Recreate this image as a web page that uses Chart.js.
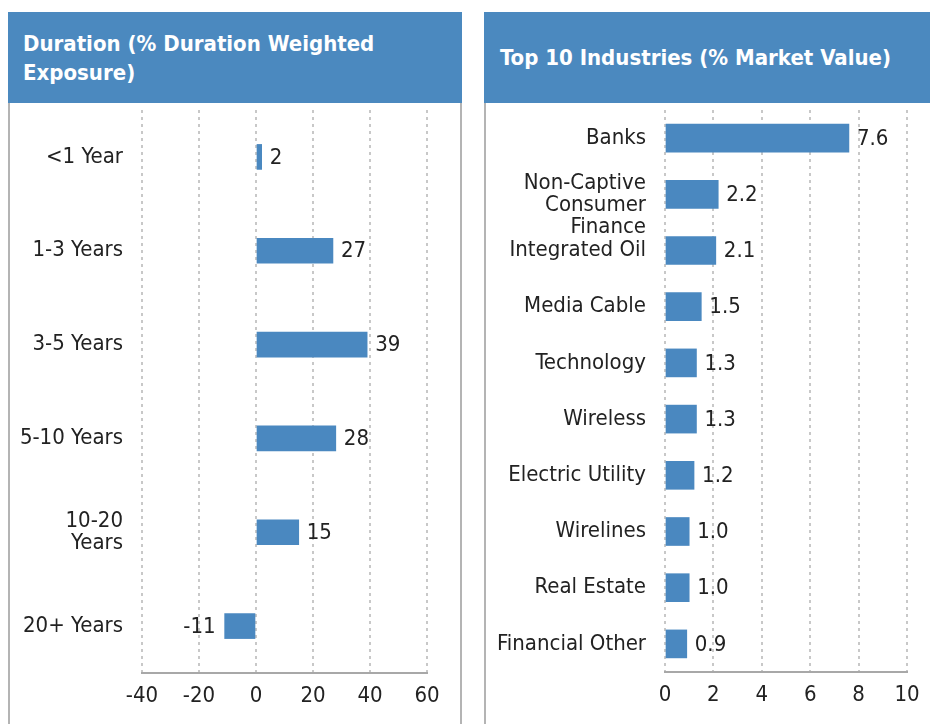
<!DOCTYPE html>
<html><head><meta charset="utf-8">
<script src="https://cdn.jsdelivr.net/npm/chart.js@4/dist/chart.umd.min.js"></script>
<style>
html,body{margin:0;padding:0;background:#fff;width:930px;height:724px;overflow:hidden;position:relative;font-family:'DejaVu Sans Condensed','DejaVu Sans',sans-serif;}
.hdr{position:absolute;background:#4b89bf;color:#fff;font-weight:bold;font-size:22px;line-height:29px;box-sizing:border-box;white-space:nowrap;}
.body{position:absolute;border-left:2px solid #b4b4b4;border-right:2px solid #b4b4b4;box-sizing:border-box;}
canvas{position:absolute;}
</style></head><body>
<div class="hdr" style="left:8px;top:12px;width:454px;height:91px;padding:17px 0 0 15px;">Duration (% Duration Weighted<br>Exposure)</div>
<div class="body" style="left:8px;top:103px;width:454px;height:630px;"></div>
<div class="hdr" style="left:484px;top:12px;width:446px;height:91px;padding:31px 0 0 16px;">Top 10 Industries (% Market Value)</div>
<div class="body" style="left:484px;top:103px;width:460px;height:630px;"></div>
<canvas id="c1" width="450" height="621" style="left:10px;top:103px;"></canvas>
<canvas id="c2" width="444" height="621" style="left:486px;top:103px;"></canvas>
<script>
const durationCategories = ['<1 Year', '1-3 Years', '3-5 Years', '5-10 Years', ['10-20', 'Years'], '20+ Years'];
const durationValues = [2, 27, 39, 28, 15, -11];
const durationTicks = [-40, -20, 0, 20, 40, 60];

const industryCategories = ['Banks', ['', 'Non-Captive', 'Consumer', 'Finance'], 'Integrated Oil', 'Media Cable', 'Technology', 'Wireless', 'Electric Utility', 'Wirelines', 'Real Estate', 'Financial Other'];
const industryValues = [7.6, 2.2, 2.1, 1.5, 1.3, 1.3, 1.2, 1.0, 1.0, 0.9];
const industryTicks = [0, 2, 4, 6, 8, 10];

const FONT = "'DejaVu Sans Condensed','DejaVu Sans',sans-serif";
const FS = 22;
const BAR = '#4a88c0';

function labelPlugin(fmt){
  return {
    id:'vals',
    afterDatasetsDraw(chart){
      const ctx = chart.ctx;
      const meta = chart.getDatasetMeta(0);
      const data = chart.data.datasets[0].data;
      ctx.save();
      ctx.font = FS + 'px ' + FONT;
      ctx.fillStyle = '#222';
      ctx.textBaseline = 'middle';
      meta.data.forEach((el, i) => {
        const v = data[i];
        if (v >= 0) { ctx.textAlign = 'left'; ctx.fillText(fmt(v), el.x + 8, el.y + 1); }
        else { ctx.textAlign = 'right'; ctx.fillText(fmt(v), el.x - 9, el.y + 1); }
      });
      ctx.restore();
    }
  };
}

function makeChart(id, labels, values, ticks, thick, yWidth, padRight, xHeight, fmt){
  new Chart(document.getElementById(id), {
    type:'bar',
    data:{labels, datasets:[{data:values, backgroundColor:BAR, barThickness:thick, borderWidth:0}]},
    options:{
      indexAxis:'y', responsive:false, animation:false, devicePixelRatio:1,
      layout:{padding:{top:7, right:padRight, left:0, bottom:0}},
      plugins:{legend:{display:false}, tooltip:{enabled:false}},
      scales:{
        x:{
          min:ticks[0], max:ticks[ticks.length-1],
          afterBuildTicks(s){ s.ticks = ticks.map(v => ({value:v})); },
          afterFit(s){ s.height = xHeight; s.paddingLeft = 0; s.paddingRight = 0; },
          grid:{display:true, color:'#c8c8c8', lineWidth:2, drawTicks:false},
          border:{display:true, color:'#a8a8a8', width:2, dash:[3,4]},
          ticks:{color:'#222', padding:10, maxRotation:0, autoSkip:false, font:{family:FONT, size:FS}}
        },
        y:{
          afterFit(s){ s.width = yWidth; s.paddingTop = 0; s.paddingBottom = 0; },
          grid:{display:false, drawTicks:false},
          border:{display:false},
          ticks:{color:'#222', padding:19, autoSkip:false, font:{family:FONT, size:FS, lineHeight:1.0}}
        }
      }
    },
    plugins:[labelPlugin(fmt)]
  });
}

makeChart('c1', durationCategories, durationValues, durationTicks, 25, 132, 33, 51, v => String(v));
makeChart('c2', industryCategories, industryValues, industryTicks, 28, 179, 23, 52, v => v.toFixed(1));
</script>
</body></html>
